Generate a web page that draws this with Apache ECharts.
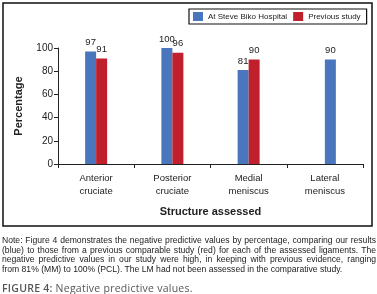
<!DOCTYPE html>
<html><head><meta charset="utf-8">
<script src="https://cdn.jsdelivr.net/npm/echarts@6/dist/echarts.min.js"></script>
<style>
html,body{margin:0;padding:0;background:#fff;overflow:hidden;}
#c{width:377px;height:294px;position:absolute;left:0;top:0;}
#note{position:absolute;left:2px;top:236px;width:374px;font-family:"Liberation Sans",Arial,sans-serif;font-size:8.6px;line-height:9.7px;color:#222;}
#note div{text-align:justify;text-align-last:justify;white-space:nowrap;}
#fig{position:absolute;left:2px;top:282px;font-family:"Open Sans","Liberation Sans",sans-serif;font-size:10.5px;line-height:12px;letter-spacing:0.25px;color:#555;white-space:nowrap;}
#fig b{font-weight:600;}
</style></head><body>
<div id="c"></div>
<div id="note">
<div>Note: Figure 4 demonstrates the negative predictive values by percentage, comparing our results</div>
<div>(blue) to those from a previous comparable study (red) for each of the assessed ligaments. The</div>
<div>negative predictive values in our study were high, in keeping with previous evidence, ranging</div>
<div style="text-align-last:left">from 81% (MM) to 100% (PCL). The LM had not been assessed in the comparative study.</div>
</div>
<div id="fig"><b>FIGURE 4:</b> Negative predictive values.</div>
<script>
var categories = ['Anterior\ncruciate', 'Posterior\ncruciate', 'Medial\nmeniscus', 'Lateral\nmeniscus'];
var steveBiko = [97, 100, 81, null];
var previous = [91, 96, 90, null];
var lateralSteveBiko = 90; // drawn in the second slot of the last category, as in the original
var yTicks = [0, 20, 40, 60, 80, 100];

var BLUE = '#4a76be', RED = '#c0202c';
var chart = echarts.init(document.getElementById('c'));
var prevData = previous.map(function(v, i){
  if (i === 3) return {value: lateralSteveBiko, itemStyle: {color: BLUE}};
  return v;
});
var font = '"Liberation Sans", Arial, sans-serif';
chart.setOption({
  animation: false,
  textStyle: {fontFamily: font},
  graphic: [{type: 'rect', shape: {x: 3, y: 3, width: 369, height: 223}, style: {fill: 'none', stroke: '#111', lineWidth: 1.5}}],
  legend: {
    left: 189, top: 9, width: 179, height: 16,
    itemWidth: 10, itemHeight: 9, itemGap: 6,
    padding: [3, 6, 3, 4],
    borderColor: '#111', borderWidth: 1.2,
    textStyle: {fontSize: 8, color: '#222', fontFamily: font},
    data: [{name: 'At Steve Biko Hospital', icon: 'rect'}, {name: 'Previous study', icon: 'rect'}]
  },
  grid: {left: 58, right: 14, top: 48, bottom: 130},
  xAxis: {
    type: 'category', data: categories, boundaryGap: true,
    axisLine: {lineStyle: {color: '#222', width: 1}},
    axisTick: {show: true, length: 4, lineStyle: {color: '#222'}},
    axisLabel: {color: '#222', fontSize: 9.5, lineHeight: 13, margin: 8},
    name: 'Structure assessed', nameLocation: 'middle', nameGap: 42,
    nameTextStyle: {fontSize: 11, fontWeight: 'bold', color: '#222'}
  },
  yAxis: {
    type: 'value', min: 0, max: 100, interval: 20,
    axisLine: {show: true, lineStyle: {color: '#222'}},
    axisTick: {show: true, length: 4, lineStyle: {color: '#222'}},
    splitLine: {show: false},
    axisLabel: {color: '#222', fontSize: 10, margin: 5},
    name: 'Percentage', nameLocation: 'middle', nameGap: 34, nameRotate: 90,
    nameTextStyle: {fontSize: 11, fontWeight: 'bold', color: '#222'}
  },
  series: [
    {name: 'At Steve Biko Hospital', type: 'bar', data: steveBiko, barWidth: 11, barGap: '0%',
     itemStyle: {color: BLUE},
     label: {show: true, position: 'top', fontSize: 9.5, color: '#222', distance: 4}},
    {name: 'Previous study', type: 'bar', data: prevData, barWidth: 11,
     itemStyle: {color: RED},
     label: {show: true, position: 'top', fontSize: 9.5, color: '#222', distance: 4}}
  ]
});
</script>
</body></html>
